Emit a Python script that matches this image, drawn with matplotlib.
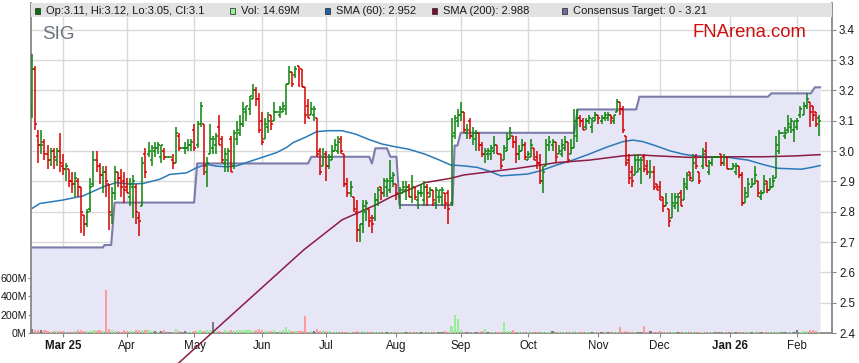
"""Daily OHLC chart for SIG with volume, moving averages and consensus target."""

import matplotlib

matplotlib.use("Agg")
import matplotlib.pyplot as plt
import numpy as np
import pandas as pd
from matplotlib.patches import Rectangle

plt.rcParams["font.family"] = ["Liberation Sans", "DejaVu Sans"]

# weekday calendar; exchange holidays show up as flat bars
dates = pd.bdate_range("2025-02-17", "2026-02-11")

opens = [
    3.14, 3.27, 3.05, 3.02, 3.03, 2.99, 2.97, 3.00, 2.97, 3.00,
    2.95, 2.94, 2.94, 2.90, 2.89, 2.90, 2.88, 2.79, 2.76, 2.81,
    2.89, 2.97, 2.95, 2.92, 2.93, 2.89, 2.79, 2.86, 2.93, 2.91,
    2.90, 2.88, 2.85, 2.88, 2.88, 2.78, 2.82, 2.99, 2.99, 2.97,
    3.00, 3.01, 2.98, 3.00, 2.98, 2.98, 2.97, 2.96, 3.05, 3.01,
    3.01, 3.01, 3.02, 3.07, 3.02, 3.09, 3.09, 2.93, 2.99, 3.01,
    3.02, 3.08, 3.04, 2.96, 2.97, 3.04, 2.95, 3.04, 3.06, 3.09,
    3.13, 3.14, 3.17, 3.20, 3.17, 3.10, 3.04, 3.08, 3.12, 3.10,
    3.13, 3.12, 3.13, 3.14, 3.22, 3.26, 3.25, 3.28, 3.27, 3.21,
    3.15, 3.12, 3.12, 3.11, 3.00, 2.95, 2.99, 2.95, 2.97, 3.00,
    3.00, 3.04, 2.99, 2.89, 2.86, 2.85, 2.80, 2.74, 2.76, 2.80,
    2.81, 2.78, 2.78, 2.84, 2.88, 2.86, 2.88, 2.87, 2.90, 2.89,
    2.85, 2.86, 2.87, 2.88, 2.85, 2.88, 2.84, 2.86, 2.84, 2.88,
    2.85, 2.87, 2.83, 2.85, 2.85, 2.86, 2.86, 2.83, 3.06, 3.10,
    3.12, 3.13, 3.06, 3.10, 3.05, 3.04, 3.06, 3.02, 2.99, 2.99,
    2.99, 3.00, 3.02, 2.99, 2.97, 3.00, 3.04, 3.05, 3.03, 2.99,
    3.00, 3.02, 2.97, 2.98, 3.01, 2.98, 2.96, 2.90, 2.95, 3.02,
    3.02, 3.03, 2.99, 2.99, 3.01, 3.03, 2.99, 3.01, 3.05, 3.11,
    3.10, 3.08, 3.10, 3.08, 3.10, 3.12, 3.10, 3.11, 3.11, 3.12,
    3.10, 3.13, 3.16, 3.14, 3.05, 2.97, 2.93, 2.92, 2.93, 2.94,
    2.98, 2.95, 2.91, 2.93, 2.89, 2.88, 2.85, 2.82, 2.81, 2.78,
    2.82, 2.83, 2.86, 2.84, 2.88, 2.93, 2.90, 2.98, 2.93, 2.95,
    3.00, 2.93, 2.96, 2.98, 2.98, 2.99, 2.96, 2.98, 2.94, 2.94,
    2.93, 2.95, 2.92, 2.83, 2.85, 2.88, 2.89, 2.90, 2.85, 2.86,
    2.90, 2.87, 2.88, 2.91, 3.00, 3.06, 3.05, 3.07, 3.08, 3.07,
    3.08, 3.12, 3.12, 3.15, 3.16, 3.15, 3.13, 3.11,
]
highs = [
    3.32, 3.28, 3.07, 3.07, 3.04, 3.02, 3.01, 3.01, 3.01, 3.06,
    2.99, 2.96, 2.94, 2.93, 2.93, 2.91, 2.88, 2.79, 2.81, 2.91,
    3.00, 3.00, 2.96, 2.95, 2.95, 2.89, 2.88, 2.95, 2.93, 2.94,
    2.93, 2.91, 2.91, 2.92, 2.89, 2.80, 2.98, 3.01, 3.03, 3.02,
    3.03, 3.03, 3.02, 3.01, 2.98, 2.98, 2.99, 3.08, 3.06, 3.01,
    3.03, 3.04, 3.04, 3.09, 3.10, 3.16, 3.09, 2.98, 3.09, 3.05,
    3.06, 3.12, 3.05, 3.01, 3.01, 3.05, 3.07, 3.10, 3.12, 3.16,
    3.15, 3.18, 3.22, 3.21, 3.19, 3.13, 3.11, 3.13, 3.12, 3.16,
    3.13, 3.15, 3.16, 3.22, 3.28, 3.26, 3.28, 3.28, 3.27, 3.21,
    3.17, 3.16, 3.15, 3.11, 3.01, 3.01, 3.00, 2.99, 3.02, 3.04,
    3.05, 3.05, 2.99, 2.91, 2.90, 2.85, 2.84, 2.76, 2.84, 2.84,
    2.81, 2.79, 2.86, 2.88, 2.88, 2.91, 2.91, 2.97, 2.93, 2.89,
    2.88, 2.90, 2.90, 2.89, 2.92, 2.88, 2.87, 2.89, 2.90, 2.89,
    2.88, 2.87, 2.88, 2.87, 2.88, 2.86, 2.87, 3.11, 3.12, 3.14,
    3.16, 3.13, 3.09, 3.11, 3.08, 3.07, 3.06, 3.03, 3.01, 3.01,
    3.02, 3.05, 3.02, 2.99, 3.02, 3.06, 3.08, 3.05, 3.05, 3.02,
    3.04, 3.03, 3.00, 3.04, 3.01, 3.00, 2.99, 2.95, 3.04, 3.05,
    3.04, 3.03, 3.02, 3.04, 3.05, 3.03, 3.04, 3.14, 3.14, 3.12,
    3.11, 3.11, 3.12, 3.11, 3.13, 3.12, 3.12, 3.13, 3.13, 3.12,
    3.12, 3.17, 3.16, 3.15, 3.05, 2.99, 2.95, 2.99, 2.99, 2.98,
    2.99, 2.97, 2.97, 2.95, 2.89, 2.90, 2.85, 2.86, 2.81, 2.86,
    2.86, 2.86, 2.87, 2.91, 2.93, 2.93, 2.99, 2.99, 2.93, 3.01,
    3.03, 2.97, 2.98, 2.98, 2.98, 2.99, 2.99, 2.98, 2.94, 2.96,
    2.96, 2.95, 2.93, 2.88, 2.91, 2.91, 2.95, 2.90, 2.87, 2.92,
    2.90, 2.91, 2.92, 3.05, 3.07, 3.06, 3.08, 3.12, 3.11, 3.10,
    3.11, 3.15, 3.16, 3.19, 3.16, 3.15, 3.13, 3.12,
]
lows = [
    3.11, 3.07, 2.96, 2.99, 2.97, 2.94, 2.95, 2.94, 2.95, 2.93,
    2.92, 2.90, 2.88, 2.86, 2.85, 2.85, 2.73, 2.72, 2.75, 2.80,
    2.88, 2.93, 2.89, 2.86, 2.85, 2.74, 2.76, 2.84, 2.88, 2.85,
    2.83, 2.86, 2.82, 2.78, 2.76, 2.72, 2.82, 2.91, 2.98, 2.95,
    2.98, 2.99, 2.96, 2.97, 2.98, 2.98, 2.94, 2.96, 3.00, 3.01,
    2.99, 3.00, 3.00, 3.00, 3.01, 3.08, 2.92, 2.88, 2.99, 2.99,
    2.99, 3.02, 2.96, 2.93, 2.93, 2.93, 2.94, 3.02, 3.05, 3.08,
    3.10, 3.12, 3.17, 3.15, 3.06, 3.02, 3.04, 3.06, 3.07, 3.10,
    3.13, 3.11, 3.13, 3.12, 3.22, 3.21, 3.24, 3.21, 3.21, 3.09,
    3.11, 3.12, 3.10, 2.98, 2.92, 2.95, 2.90, 2.94, 2.97, 3.00,
    2.99, 2.99, 2.88, 2.85, 2.85, 2.80, 2.70, 2.70, 2.73, 2.77,
    2.75, 2.73, 2.77, 2.82, 2.84, 2.85, 2.85, 2.86, 2.88, 2.84,
    2.81, 2.86, 2.84, 2.85, 2.83, 2.84, 2.81, 2.85, 2.82, 2.82,
    2.85, 2.82, 2.81, 2.83, 2.82, 2.81, 2.76, 2.82, 3.04, 3.08,
    3.10, 3.06, 3.04, 3.04, 3.02, 3.00, 3.00, 2.98, 2.96, 2.97,
    2.97, 2.99, 2.99, 2.94, 2.97, 3.00, 3.04, 3.01, 2.96, 2.97,
    3.00, 2.97, 2.97, 2.98, 2.97, 2.94, 2.89, 2.86, 2.95, 3.00,
    3.00, 2.96, 2.99, 2.98, 3.00, 2.96, 2.99, 3.01, 3.03, 3.08,
    3.07, 3.07, 3.09, 3.06, 3.10, 3.09, 3.09, 3.10, 3.10, 3.09,
    3.09, 3.13, 3.12, 3.06, 2.95, 2.89, 2.88, 2.92, 2.93, 2.89,
    2.93, 2.92, 2.91, 2.87, 2.87, 2.84, 2.80, 2.82, 2.75, 2.78,
    2.81, 2.80, 2.82, 2.84, 2.87, 2.90, 2.90, 2.94, 2.89, 2.94,
    2.95, 2.92, 2.95, 2.98, 2.98, 2.95, 2.95, 2.94, 2.94, 2.94,
    2.92, 2.91, 2.82, 2.83, 2.85, 2.88, 2.89, 2.85, 2.84, 2.86,
    2.86, 2.87, 2.88, 2.91, 2.99, 3.06, 3.04, 3.06, 3.06, 3.03,
    3.07, 3.11, 3.12, 3.14, 3.08, 3.10, 3.08, 3.05,
]
closes = [
    3.27, 3.09, 3.02, 3.02, 2.99, 2.97, 3.00, 2.98, 3.00, 2.96,
    2.94, 2.95, 2.90, 2.89, 2.91, 2.88, 2.80, 2.76, 2.80, 2.88,
    2.97, 2.95, 2.92, 2.93, 2.90, 2.80, 2.86, 2.93, 2.91, 2.88,
    2.87, 2.86, 2.89, 2.90, 2.80, 2.77, 2.96, 2.93, 3.00, 3.01,
    3.01, 3.02, 3.02, 2.98, 2.98, 2.98, 2.96, 3.06, 3.01, 3.01,
    3.01, 3.02, 3.03, 3.01, 3.09, 3.15, 2.95, 2.96, 3.04, 3.04,
    3.05, 3.02, 2.97, 2.99, 3.00, 2.93, 3.06, 3.07, 3.09, 3.14,
    3.15, 3.18, 3.20, 3.17, 3.07, 3.03, 3.09, 3.10, 3.09, 3.13,
    3.13, 3.14, 3.15, 3.22, 3.26, 3.22, 3.27, 3.26, 3.21, 3.12,
    3.11, 3.14, 3.14, 2.99, 2.93, 2.98, 2.95, 2.98, 3.00, 3.02,
    3.03, 3.00, 2.89, 2.86, 2.88, 2.81, 2.74, 2.76, 2.82, 2.83,
    2.77, 2.76, 2.84, 2.87, 2.86, 2.90, 2.90, 2.91, 2.92, 2.86,
    2.87, 2.88, 2.88, 2.85, 2.88, 2.85, 2.86, 2.86, 2.88, 2.86,
    2.87, 2.84, 2.87, 2.87, 2.87, 2.83, 2.81, 3.05, 3.11, 3.12,
    3.13, 3.07, 3.07, 3.05, 3.06, 3.06, 3.02, 2.99, 3.00, 3.00,
    3.01, 3.02, 2.99, 2.95, 3.01, 3.04, 3.06, 3.03, 2.99, 3.00,
    3.02, 2.98, 2.99, 3.02, 2.97, 2.96, 2.90, 2.93, 3.02, 3.03,
    3.03, 2.98, 3.00, 3.02, 3.03, 2.97, 3.01, 3.10, 3.11, 3.10,
    3.07, 3.10, 3.11, 3.11, 3.12, 3.11, 3.11, 3.12, 3.12, 3.11,
    3.12, 3.16, 3.14, 3.07, 2.96, 2.91, 2.90, 2.97, 2.97, 2.97,
    2.94, 2.93, 2.93, 2.88, 2.87, 2.84, 2.82, 2.83, 2.77, 2.83,
    2.85, 2.85, 2.82, 2.89, 2.92, 2.91, 2.96, 2.95, 2.90, 2.99,
    2.95, 2.96, 2.98, 2.98, 2.98, 2.96, 2.98, 2.94, 2.94, 2.95,
    2.95, 2.92, 2.83, 2.86, 2.89, 2.89, 2.92, 2.86, 2.86, 2.89,
    2.87, 2.88, 2.90, 3.02, 3.06, 3.06, 3.06, 3.09, 3.10, 3.10,
    3.10, 3.14, 3.15, 3.17, 3.13, 3.12, 3.09, 3.10,
]
volume_m = [
    40, 35, 33, 32, 33, 18, 15, 22, 20, 18,
    25, 15, 10, 12, 22, 30, 35, 25, 22, 22,
    28, 25, 30, 22, 462, 40, 38, 25, 20, 15,
    30, 22, 18, 25, 28, 30, 35, 30, 30, 25,
    18, 15, 20, 30, 0, 0, 10, 40, 22, 0,
    20, 15, 12, 18, 22, 30, 25, 35, 30, 116,
    25, 20, 12, 30, 25, 28, 22, 30, 30, 35,
    30, 32, 25, 38, 40, 30, 20, 22, 25, 30,
    0, 25, 35, 62, 36, 25, 22, 20, 22, 182,
    15, 20, 18, 40, 22, 30, 20, 18, 15, 10,
    12, 14, 10, 12, 15, 12, 18, 15, 20, 12,
    12, 15, 10, 12, 15, 10, 12, 10, 15, 12,
    10, 12, 10, 12, 10, 8, 10, 12, 10, 14,
    12, 10, 14, 10, 12, 18, 16, 73, 193, 156,
    29, 12, 10, 15, 12, 14, 10, 18, 47, 15,
    12, 10, 8, 10, 116, 25, 22, 36, 12, 10,
    10, 12, 8, 10, 12, 10, 10, 12, 14, 10,
    18, 12, 10, 12, 10, 14, 12, 18, 16, 10,
    12, 10, 10, 12, 10, 12, 10, 10, 12, 14,
    12, 10, 62, 14, 18, 12, 14, 10, 12, 14,
    73, 12, 20, 14, 12, 18, 10, 12, 10, 12,
    10, 12, 10, 14, 12, 10, 14, 12, 10, 12,
    10, 8, 6, 0, 0, 4, 6, 6, 0, 8,
    12, 10, 15, 10, 12, 10, 10, 12, 10, 12,
    10, 12, 10, 14, 12, 0, 10, 12, 14, 12,
    36, 14, 20, 18, 36, 28, 18, 14.69,
]

# moving averages at bar positions
sma60_x = [0, 2.5, 9.8, 16.6, 23.2, 27.5, 31.9, 36.2, 41.7, 45,
           50.4, 53.7, 57, 60.2, 63.5, 66.8, 70, 73.3, 76.6, 79.9,
           83.1, 85.3, 89.2, 93, 96.9, 101.2, 105.6, 110, 114.3, 118.6,
           123, 128.2, 132.4, 136.7, 141, 145.4, 149.8, 153.1, 157.4, 161.8,
           166.1, 171.4, 176.6, 182, 187.5, 193, 196.2, 199.5, 203.8, 208.2,
           212.5, 214.8, 220.8, 227.4, 233.9, 239.3, 243.7, 251.3, 254.6, 257.4]
sma60_y = [2.811, 2.827, 2.838, 2.852, 2.882, 2.896, 2.891, 2.893, 2.907, 2.923,
           2.928, 2.945, 2.956, 2.950, 2.948, 2.951, 2.962, 2.973, 2.984, 2.995,
           3.012, 3.028, 3.045, 3.064, 3.067, 3.067, 3.056, 3.038, 3.023, 3.014,
           3.006, 2.990, 2.973, 2.954, 2.951, 2.946, 2.932, 2.918, 2.921, 2.924,
           2.935, 2.954, 2.970, 2.990, 3.012, 3.031, 3.036, 3.031, 3.017, 3.001,
           2.990, 2.986, 2.981, 2.979, 2.970, 2.954, 2.943, 2.940, 2.946, 2.952]
sma200_x = [45, 59.2, 88.7, 101.2, 106.6, 112.1, 117.5, 123, 128.4, 136.7,
            141, 149.8, 158.6, 166.1, 171.6, 182, 193, 198.5, 203.8, 214.8,
            228.2, 239.1, 249.6, 257.4]
sma200_y = [2.275, 2.405, 2.674, 2.773, 2.797, 2.822, 2.850, 2.872, 2.896, 2.910,
            2.921, 2.932, 2.943, 2.954, 2.962, 2.970, 2.984, 2.987, 2.984, 2.979,
            2.981, 2.981, 2.984, 2.988]

# consensus target step line
target_x = [-0.4, 23.1, 23.6, 25.8, 26.9, 52.9, 53.9, 90.1, 91.2, 110.1,
            111.0, 112.1, 115.9, 117.0, 119.0, 120.0, 137.3, 138.0, 138.9, 140.0,
            177.1, 178.2, 197.3, 198.4, 240.4, 241.5, 254.4, 255.7, 257.4]
target_y = [2.682, 2.682, 2.690, 2.690, 2.830, 2.830, 2.959, 2.959, 2.981, 2.981,
            2.959, 3.009, 3.009, 2.981, 2.981, 2.822, 2.822, 3.018, 3.018, 3.060,
            3.060, 3.137, 3.137, 3.179, 3.179, 3.190, 3.190, 3.210, 3.210]

price_ticks = [2.4, 2.5, 2.6, 2.7, 2.8, 2.9, 3.0, 3.1, 3.2, 3.3, 3.4]
volume_ticks = [0, 200, 400, 600]

legend_items = [
    ("Op:3.11, Hi:3.12, Lo:3.05, Cl:3.1", "#0a6e0a"),
    ("Vol: 14.69M", "#98f098"),
    ("SMA (60): 2.952", "#1f62a5"),
    ("SMA (200): 2.988", "#7a0d2c"),
    ("Consensus Target: 0 - 3.21", "#6c6c9c"),
]

GREEN = "#0a840a"
RED = "#d40000"
FIG_W, FIG_H = 859, 363

idx = np.arange(len(dates))
c = np.array(closes)
prev = np.r_[c[0], c[:-1]]
bar_colors = np.where(c >= prev, GREEN, RED)
vol_colors = np.where(c > prev, "#96ee96", np.where(c < prev, "#ff9a9a", "#7a7a86"))

fig = plt.figure(figsize=(FIG_W / 100, FIG_H / 100), dpi=100)
ax = fig.add_axes([31 / FIG_W, 30 / FIG_H, 801 / FIG_W, 330 / FIG_H])
ax_vol = ax.twinx()
ax_top = ax.twinx()

x_lim = (-0.4, 261.3)
y_lim = (2.4, 3.488)
for a in (ax, ax_top):
    a.set_xlim(*x_lim)
    a.set_ylim(*y_lim)
ax_vol.set_ylim(0, 3587)

# month ticks at the first trading day of each month
month = dates.month
starts = [i for i in range(1, len(dates)) if month[i] != month[i - 1]]
labels = []
for k, i in enumerate(starts):
    d = dates[i]
    if k == 0 or d.month == 1:
        labels.append(d.strftime("%b %y"))
    else:
        labels.append(d.strftime("%b"))
ax.set_xticks(starts)
ax.set_xticklabels(labels)
for k, lab in enumerate(ax.get_xticklabels()):
    if k == 0 or dates[starts[k]].month == 1:
        lab.set_fontweight("bold")

ax.set_yticks(price_ticks)
ax.set_yticklabels([f"{t:.1f}" for t in price_ticks])
ax.yaxis.tick_right()
ax.grid(True, color="#d9d9d9", linewidth=1.0)
ax.set_axisbelow(True)
ax.tick_params(axis="both", length=3, color="#888888", labelsize=8.3,
               labelcolor="#1a1a1a", pad=2)

ax.fill_between(target_x, target_y, y_lim[0], color="#e6e6f6", linewidth=0, zorder=1)
ax.plot(target_x, target_y, color="#7c7cab", linewidth=1.5, zorder=2)

ax_vol.bar(idx, volume_m, width=0.7, color=vol_colors, linewidth=0)
ax_vol.yaxis.tick_left()
ax_vol.set_yticks(volume_ticks)
ax_vol.set_yticklabels([f"{v}M" for v in volume_ticks])
ax_vol.tick_params(axis="y", length=2, color="#888888", labelsize=7.7,
                   labelcolor="#1a1a1a", pad=1)

ax_top.plot(sma60_x, sma60_y, color="#2a7ab8", linewidth=1.1, zorder=2)
ax_top.plot(sma200_x, sma200_y, color="#8c1c44", linewidth=1.1, zorder=2,
            clip_on=False)
ax_top.vlines(idx, lows, highs, colors=bar_colors, linewidth=1.1, zorder=3)
ax_top.hlines(opens, idx - 0.65, idx, colors=bar_colors, linewidth=1.1, zorder=3)
ax_top.hlines(closes, idx, idx + 0.65, colors=bar_colors, linewidth=1.1, zorder=3)
ax_top.set_yticks([])

for a in (ax, ax_vol, ax_top):
    a.spines["top"].set_visible(False)
for a in (ax_vol, ax_top):
    for s in a.spines.values():
        s.set_visible(False)
for s in ("left", "right", "bottom"):
    ax.spines[s].set_color("#888888")
    ax.spines[s].set_linewidth(1.3)

# legend band across the top of the plot
fig.add_artist(Rectangle((31 / FIG_W, 1 - 17 / FIG_H), 801 / FIG_W, 14 / FIG_H,
                         transform=fig.transFigure, facecolor="#e2e2e2",
                         edgecolor="none"))
legend_x = [35, 230, 325, 432, 562]
for (text, col), x in zip(legend_items, legend_x):
    fig.add_artist(Rectangle((x / FIG_W, 1 - 13.5 / FIG_H), 5 / FIG_W, 5 / FIG_H,
                             transform=fig.transFigure, facecolor=col,
                             edgecolor="#222222", linewidth=0.5))
    fig.text((x + 11) / FIG_W, 1 - 14 / FIG_H, text, fontsize=8,
             color="#1a1a1a", va="baseline")

fig.text(42 / FIG_W, 1 - 39 / FIG_H, "SIG", fontsize=13.5, color="#69727e",
         va="baseline")
fig.text(693 / FIG_W, 1 - 37 / FIG_H, "FNArena.com", fontsize=13.3,
         color="#cc1010", va="baseline")

fig.savefig("out.png", dpi=100)
